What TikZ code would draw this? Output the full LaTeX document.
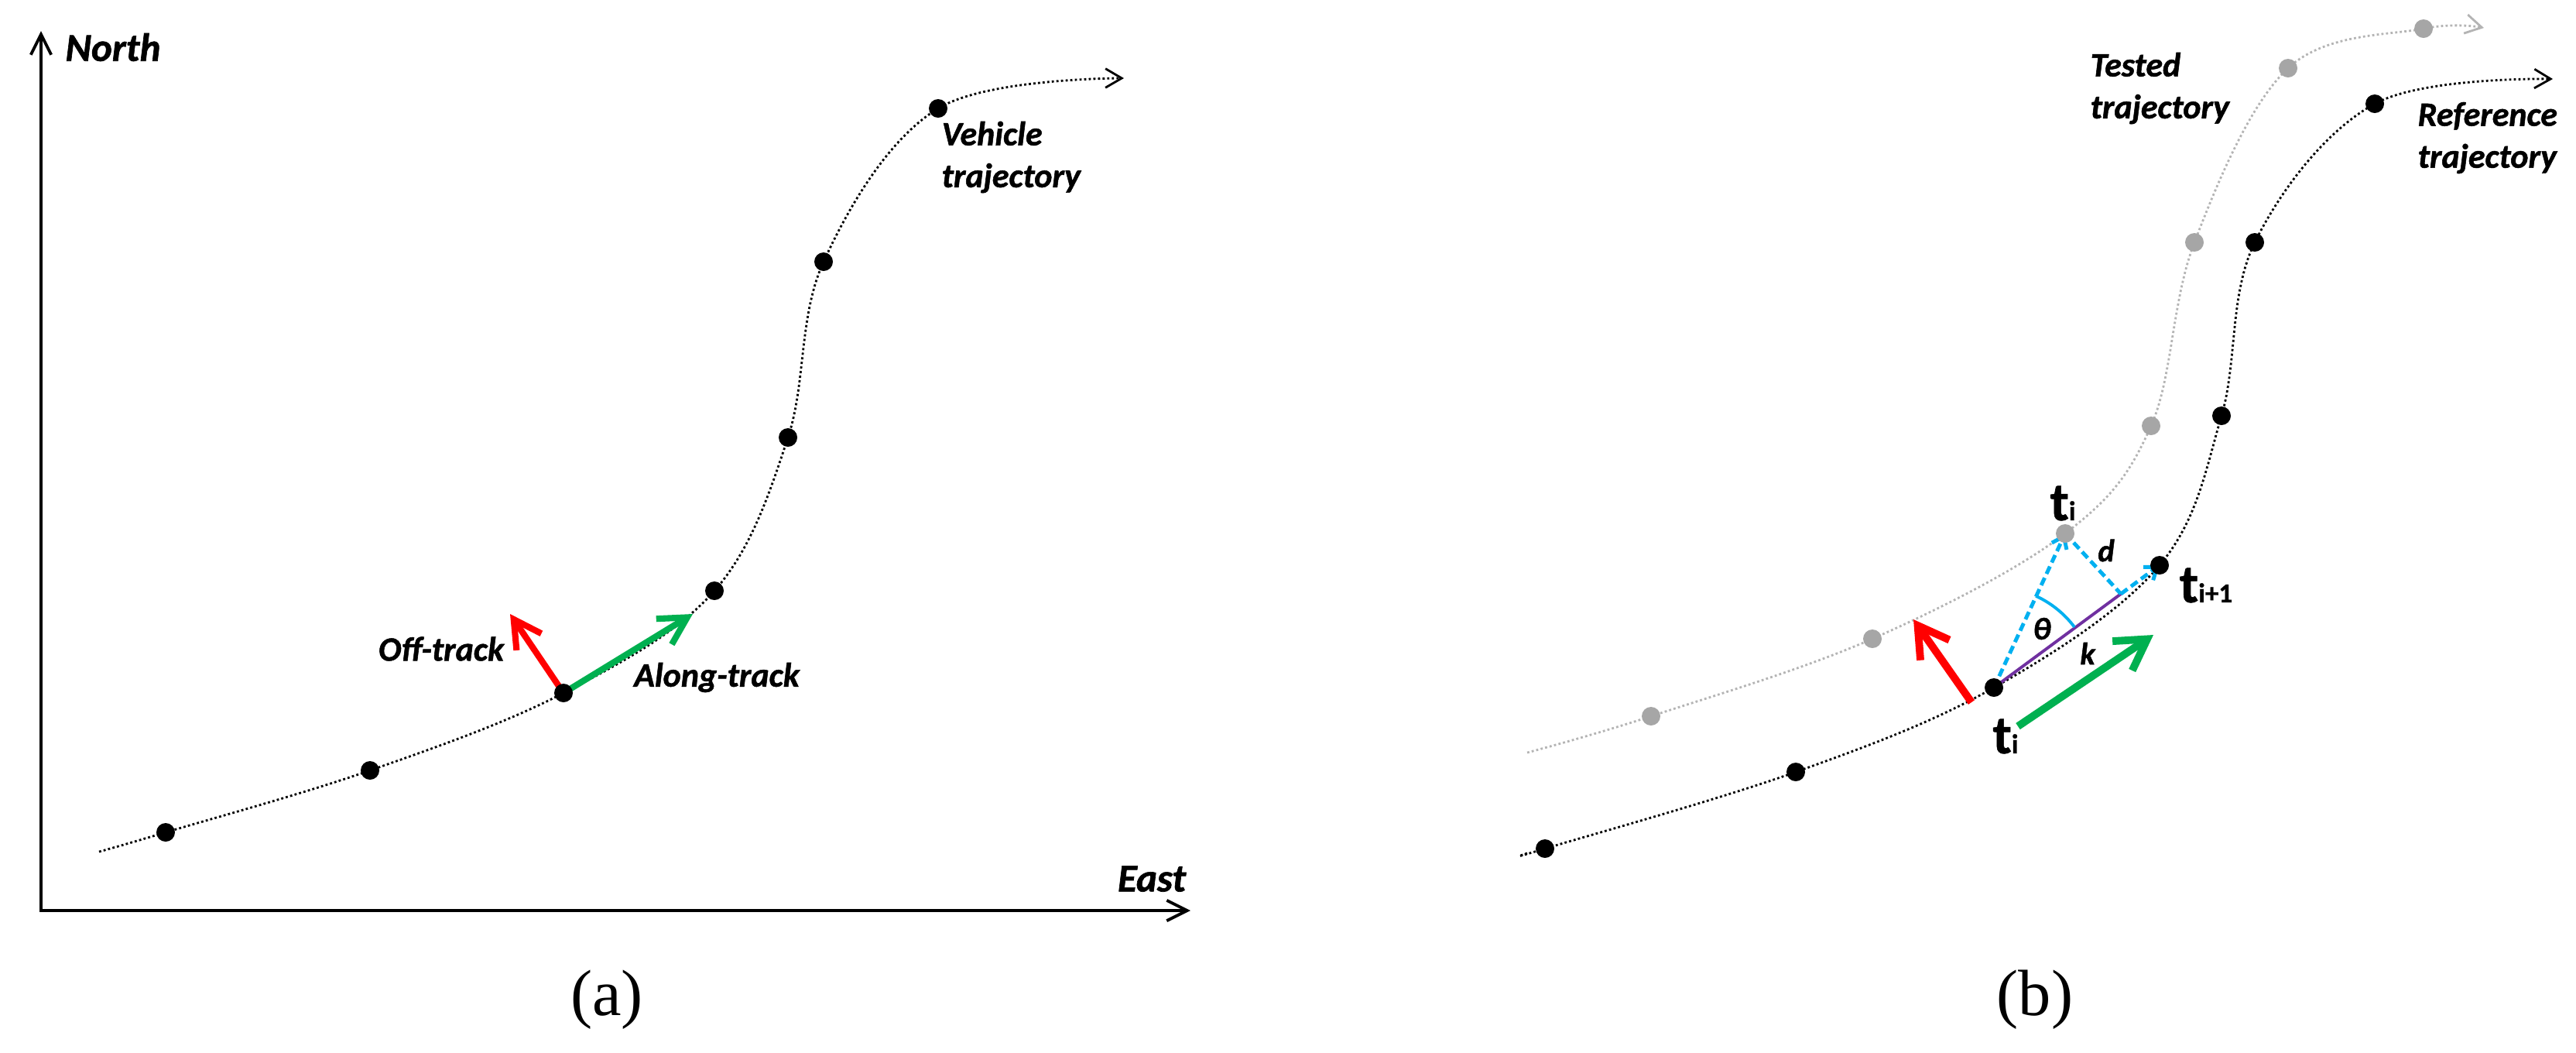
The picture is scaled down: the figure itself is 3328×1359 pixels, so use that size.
\documentclass[tikz,border=0pt]{standalone}
\usepackage{fontspec}
\setmainfont{Carlito}[BoldItalicFeatures={FakeBold=1.2},BoldFeatures={FakeBold=0.8}]
\newfontfamily\capfont{Liberation Serif}
\usetikzlibrary{arrows.meta,calc}
\definecolor{myred}{HTML}{FF0000}
\definecolor{mygreen}{HTML}{00B050}
\definecolor{myblue}{HTML}{00B0F0}
\definecolor{mypurple}{HTML}{7030A0}
\definecolor{dotgray}{HTML}{A6A6A6}
\definecolor{linegray}{HTML}{B4B4B4}
\begin{document}
\begin{tikzpicture}[x=0.01cm,y=-0.01cm,
  lbl/.style={font=\fontsize{12.5}{15.4}\selectfont\bfseries\itshape, inner sep=0pt, align=left},
  axlbl/.style={font=\fontsize{14.5}{17}\selectfont\bfseries\itshape, inner sep=0pt},
  tlbl/.style={font=\fontsize{20}{24}\selectfont\bfseries, inner sep=0pt},
  sym/.style={font=\fontsize{11.5}{14}\selectfont\bfseries\itshape, inner sep=0pt},
  caplbl/.style={font=\fontsize{24}{28}\selectfont\capfont, inner sep=0pt},
  dot/.style={circle, fill=black, inner sep=0pt, minimum size=0.24cm},
  gdot/.style={dot, fill=dotgray},
  traj/.style={line width=0.8pt, dash pattern=on 0.8pt off 0.9pt, -{Straight Barb[length=6pt,width=7pt]}},
  axisline/.style={line width=1.1pt, {Straight Barb[length=7.5pt,width=7.5pt]}-{Straight Barb[length=7.5pt,width=7.5pt]}},
  veca/.style={line width=2.3pt, -{Straight Barb[length=10pt,width=11pt]}},
  vecb/.style={line width=2.8pt, -{Straight Barb[length=11pt,width=13pt]}},
  measure/.style={myblue, line width=1.4pt, dash pattern=on 3pt off 1.6pt},
  mtip/.style={-{Straight Barb[length=4pt,width=6pt]}}
]
\useasboundingbox (0,0) rectangle (3328,1359);

% ---------------- panel (a) ----------------
\coordinate (Ntop) at (53,40);
\coordinate (O) at (53,1176);
\coordinate (Eend) at (1538,1176);
\draw[axisline] (Ntop) -- (O) -- (Eend);
\node[axlbl] (north) at (146,61) {North};
\node[axlbl] (east) at (1488,1135) {East};

\coordinate (a0) at (128,1100);
\coordinate (a1) at (214,1075);
\coordinate (a2) at (478,995);
\coordinate (a3) at (728,895);
\coordinate (a4) at (923,763);
\coordinate (a5) at (1018,565);
\coordinate (a6) at (1064,338);
\coordinate (a7) at (1212,140);
\coordinate (a8) at (1452,101);
\draw[traj] plot[smooth, tension=0.6] coordinates {(a0) (a1) (a2) (a3) (a4) (a5) (a6) (a7) (a8)};

\coordinate (offa) at (659,793);
\coordinate (alonga) at (895,793);
\draw[veca, myred] (a3) -- (offa);
\draw[veca, mygreen] (a3) -- (alonga);

\foreach \i in {1,...,7} { \node[dot] (da\i) at (a\i) {}; }

\node[lbl, anchor=west] (veh) at (1216,203) {Vehicle\\trajectory};
\node[lbl] (offlbl) at (570,838) {Off-track};
\node[lbl] (alonglbl) at (926,875) {Along-track};
\node[caplbl] (capa) at (784,1291) {(a)};

% ---------------- panel (b) ----------------
% tested trajectory
\coordinate (b0) at (1973,972);
\coordinate (b1) at (2133,925);
\coordinate (b2) at (2419,825);
\coordinate (b3) at (2668,689);
\coordinate (b4) at (2779,550);
\coordinate (b5) at (2835,313);
\coordinate (b6) at (2956,88);
\coordinate (b7) at (3131,37);
\coordinate (b8) at (3209,36);
\draw[traj, linegray] plot[smooth, tension=0.6] coordinates {(b0) (b1) (b2) (b3) (b4) (b5) (b6) (b7) (b8)};

% reference trajectory
\coordinate (r0) at (1973,1102);
\coordinate (r1) at (1996,1096);
\coordinate (r2) at (2320,997);
\coordinate (r3) at (2576,888);
\coordinate (r4) at (2790,730);
\coordinate (r5) at (2870,537);
\coordinate (r6) at (2913,313);
\coordinate (r7) at (3068,134);
\coordinate (r8) at (3298,102);
\draw[traj] plot[smooth, tension=0.6] coordinates {(r0) (r1) (r2) (r3) (r4) (r5) (r6) (r7) (r8)};

% vectors
\coordinate (redstart) at (2547,907);
\coordinate (redtip) at (2472,800);
\coordinate (greenstart) at (2607,938);
\coordinate (greentip) at (2782,820);
\draw[vecb, myred] (redstart) -- (redtip);
\draw[vecb, mygreen] (greenstart) -- (greentip);

% geometry
\coordinate (foot) at (2740,767);
\draw[mypurple, line width=1.1pt] (r3) -- (foot);
\draw[myblue, line width=1.1pt] ($(r3)+(36.9:1.3cm)$) arc[start angle=36.9, end angle=65.4, radius=1.3cm];
\draw[measure, mtip] (r3) -- (b3);
\draw[measure] (b3) -- (foot);
\draw[measure, mtip] (foot) -- (r4);

\foreach \i in {1,...,7} { \node[gdot] (db\i) at (b\i) {}; }
\foreach \i in {1,...,7} { \node[dot] (dr\i) at (r\i) {}; }

\node[lbl, anchor=west] (tested) at (2700,114) {Tested\\trajectory};
\node[lbl, anchor=west] (reference) at (3123,178) {Reference\\trajectory};

\node[tlbl] (tiup) at (2665,650) {t{\fontsize{10}{12}\selectfont i}};
\node[tlbl] (tinext) at (2850,756) {t{\fontsize{10}{12}\selectfont i+1}};
\node[tlbl] (tilow) at (2591,951) {t{\fontsize{10}{12}\selectfont i}};
\node[sym] (theta) at (2638,812) {θ};
\node[sym] (dlbl) at (2721,711) {d};
\node[sym] (klbl) at (2697,844) {k};
\node[caplbl] (capb) at (2629,1291) {(b)};
\end{tikzpicture}
\end{document}
